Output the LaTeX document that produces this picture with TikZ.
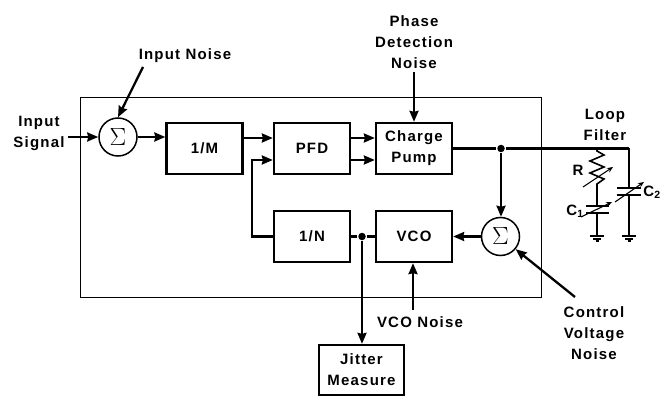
\documentclass[tikz,border=0pt]{standalone}
\usepackage{fontspec}
\setmainfont[LetterSpace=8]{Liberation Sans}
\usetikzlibrary{arrows.meta}

\begin{document}
\begin{tikzpicture}[x=1pt, y=-1pt, line width=2.3pt, >={Stealth[length=11pt,width=9pt,inset=1pt]},
    font=\bfseries\fontsize{15}{21}\selectfont,
    block/.style={draw, minimum width=76pt, minimum height=51pt, inner sep=0pt, align=center},
    summer/.style={circle, draw, line width=1.5pt, minimum size=38pt, inner sep=0pt, font=\fontsize{24}{24}\selectfont},
    label/.style={align=center, inner sep=0pt},
    junction/.style={circle, fill, inner sep=0pt, minimum size=7.5pt},
    ground/.style={line width=2pt}]
  \useasboundingbox (0, 0) rectangle (661, 398);
  \node[draw, line width=0.8pt, minimum width=461pt, minimum height=200pt, inner sep=0pt] (loop) at (310.5, 197) {};

  \node[summer] (sum1) at (118, 137) {$\Sigma$};
  \node[block] (divm) at (204.5, 148.5) {1/M};
  \node[block] (pfd)  at (312, 148.5)   {PFD};
  \node[block] (cp)   at (414, 148.5)   {Charge\\Pump};
  \node[block] (divn) at (312, 236.5)   {1/N};
  \node[block] (vco)  at (414, 236.5)   {VCO};
  \node[summer] (sum2) at (500.5, 236.5) {$\Sigma$};
  \node[block, minimum width=85pt, minimum height=50pt] (jitter) at (361.5, 370) {Jitter\\Measure};

  \node[label] (insig)  at (39, 133.5)  {Input\\Signal};
  \node[label] (innois) at (185, 56)    {Input Noise};
  \node[label] (phase)  at (414, 42)    {Phase\\Detection\\Noise};
  \node[label] (vconois) at (420, 322)  {VCO Noise};
  \node[label] (ctrl)   at (594, 333)   {Control\\Voltage\\Noise};
  \node[label] (lpf)    at (605, 125)   {Loop\\Filter};
  \node[label] (rlab)   at (578, 170)   {R};
  \node[label] (c1lab)  at (575, 211)   {C\textsubscript{1}};
  \node[label] (c2lab)  at (652, 192)   {C\textsubscript{2}};

  \node[junction] (jout) at (501, 148.5) {};
  \node[junction] (jfb)  at (362, 236.5) {};
  \coordinate (lpftop) at (629, 148.5);
  \coordinate (rtop)   at (597, 148.5);
  \coordinate (rbot)   at (597, 188);
  \coordinate (c1top)  at (597, 206);
  \coordinate (c1bot)  at (597, 213);
  \coordinate (c1gnd)  at (597, 236);
  \coordinate (c2top)  at (629, 188);
  \coordinate (c2bot)  at (629, 195);
  \coordinate (c2gnd)  at (629, 236);
  \coordinate (insigend)  at (68, 137);
  \coordinate (innoisend) at (143, 67);
  \coordinate (phaseend)  at (414, 72);
  \coordinate (vcoend)    at (413, 310);
  \coordinate (ctrlend)   at (575, 297);
  \coordinate (fbturn)    at (252, 236.5);

  % Forward path
  \draw[->] (insigend) -- (sum1);
  \draw[->] (sum1) -- (divm.west |- sum1);
  \draw[->] (divm.east |- 0, 138) -- (pfd.west |- 0, 138);
  \draw[->] (pfd.east |- 0, 138) -- (cp.west |- 0, 138);
  \draw[->] (pfd.east |- 0, 160) -- (cp.west |- 0, 160);
  \draw (cp.east) -- (jout) -- (lpftop);

  % Feedback path
  \draw[->] (jout) -- (jout |- sum2.north);
  \draw[->] (sum2) -- (vco.east |- sum2);
  \draw (vco.west |- jfb) -- (jfb) -- (divn.east |- jfb);
  \draw[->] (divn.west |- fbturn) -- (fbturn) |- (pfd.west |- 0, 160);
  \draw[->] (jfb) -- (jfb |- jitter.north);

  % Noise arrows
  \draw[->] (innoisend) -- (sum1.north);
  \draw[->] (phaseend) -- (cp.north);
  \draw[->] (vcoend) -- (vcoend |- vco.south);
  \draw[->] (ctrlend) -- (sum2.-40);

  % Loop filter
  \draw[line width=1.6pt] (rtop) -- (597, 151) -- (604, 155) -- (590, 161) -- (604, 167) -- (590, 173) -- (604, 179) -- (597, 184) -- (rbot) -- (c1top);
  \draw[ground] (c1bot) -- (c1gnd);
  \draw[ground] (lpftop) -- (c2top) (c2bot) -- (c2gnd);
  \draw[line width=1.8pt] (586, 206) -- (609, 206) (586, 213) -- (609, 213);
  \draw[line width=1.8pt] (617, 188) -- (641, 188) (617, 195) -- (641, 195);
  \draw[line width=1.1pt, ->, >={Stealth[length=6pt,width=5pt]}] (583, 187) -- (613, 167);
  \draw[line width=1.1pt, ->, >={Stealth[length=6pt,width=5pt]}] (581, 217) -- (612, 202);
  \draw[line width=1.1pt, ->, >={Stealth[length=6pt,width=5pt]}] (615, 202) -- (644, 182);
  \draw[ground, line width=2.5pt] (590, 236) -- (604, 236) (622, 236) -- (636, 236);
  \draw[ground] (593, 238.5) -- (601, 238.5) (625, 238.5) -- (633, 238.5);
  \draw[ground] (595.5, 241) -- (598.5, 241) (627.5, 241) -- (630.5, 241);
\end{tikzpicture}
\end{document}
